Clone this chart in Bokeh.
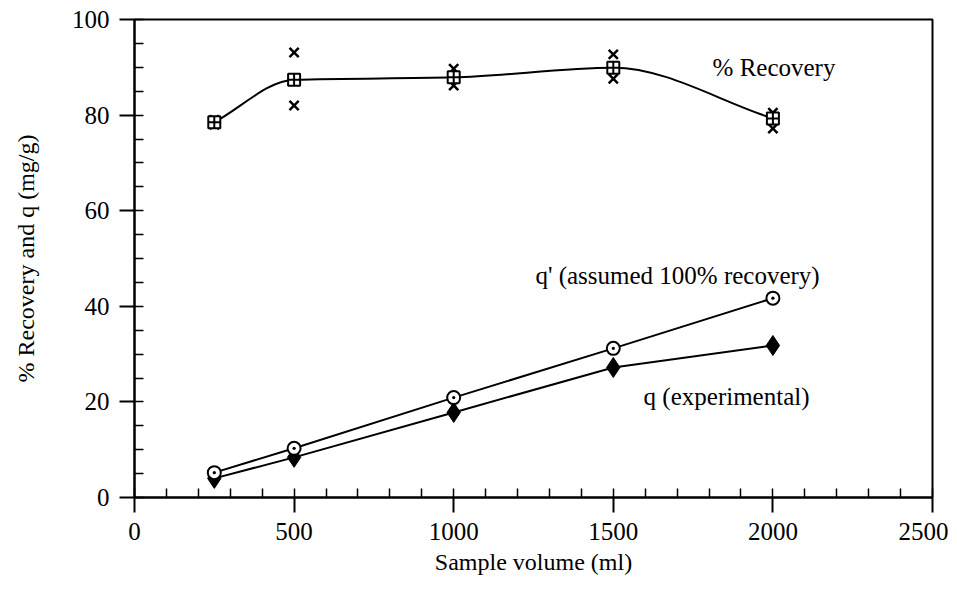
from bokeh.plotting import figure
from bokeh.models import Range1d, FixedTicker, ColumnDataSource
from bokeh.core.properties import value
from bokeh.embed import file_html
from bokeh.resources import INLINE

# ---- data ----
volume = [250, 500, 1000, 1500, 2000]
recovery_rep1 = [79.0, 93.1, 89.7, 92.7, 80.5]
recovery_rep2 = [78.0, 82.0, 86.2, 87.6, 77.2]
recovery_mean = [78.5, 87.4, 87.9, 89.9, 79.3]
q_prime = [5.2, 10.3, 20.9, 31.2, 41.7]
q_exp = [4.0, 8.4, 17.8, 27.2, 31.8]

x_ticks = [0, 500, 1000, 1500, 2000, 2500]
x_minor = list(range(0, 2501, 100))
y_ticks = [0, 20, 40, 60, 80, 100]
y_minor = list(range(0, 101, 5))

labels_text = ["% Recovery", "q' (assumed 100% recovery)", "q (experimental)"]
labels_x = [1811, 1256, 1595]
labels_y = [90.0, 46.4, 21.1]

FONT = "'Liberation Serif'"

p = figure(width=948, height=591, output_backend="svg", toolbar_location=None,
           x_range=Range1d(0, 2500), y_range=Range1d(0, 100),
           min_border_left=134, min_border_top=19, min_border_right=16,
           min_border_bottom=94)
p.grid.visible = False
p.outline_line_color = "black"
p.outline_line_width = 2
p.background_fill_color = "white"
p.border_fill_color = "white"

for ax, ticks, minor in ((p.xaxis[0], x_ticks, x_minor), (p.yaxis[0], y_ticks, y_minor)):
    ax.ticker = FixedTicker(ticks=ticks, minor_ticks=minor)
    ax.axis_line_width = 2
    ax.axis_line_color = "black"
    ax.major_tick_in = 0
    ax.major_tick_out = 15
    ax.major_tick_line_width = 2
    ax.minor_tick_in = 9
    ax.minor_tick_out = 0
    ax.minor_tick_line_width = 1.5
    ax.major_label_text_font = FONT
    ax.major_label_text_font_size = "25px"
    ax.major_label_text_color = "black"
    ax.major_label_standoff = 10
    ax.axis_label_text_font = FONT
    ax.axis_label_text_font_size = "24px"
    ax.axis_label_text_font_style = "normal"
    ax.axis_label_text_color = "black"

p.xaxis.axis_label = "Sample volume (ml)"
p.xaxis.axis_label_standoff = 6
p.yaxis.axis_label = "% Recovery and q (mg/g)"
p.yaxis.axis_label_standoff = 30

# smooth monotone-style curve through the recovery means (cubic Hermite -> bezier)
n = len(volume)
sec = [(recovery_mean[i + 1] - recovery_mean[i]) / (volume[i + 1] - volume[i]) for i in range(n - 1)]
slopes = [sec[0]]
for i in range(1, n - 1):
    a, b = sec[i - 1], sec[i]
    slopes.append(0.0 if a * b <= 0 else 2 * a * b / (a + b))
slopes.append(sec[-1])
x0, y0, x1, y1, cx0, cy0, cx1, cy1 = [], [], [], [], [], [], [], []
for i in range(n - 1):
    xa, ya = volume[i], recovery_mean[i]
    xb, yb = volume[i + 1], recovery_mean[i + 1]
    d = (xb - xa) / 3
    x0.append(xa); y0.append(ya); x1.append(xb); y1.append(yb)
    cx0.append(xa + d); cy0.append(ya + slopes[i] * d)
    cx1.append(xb - d); cy1.append(yb - slopes[i + 1] * d)
p.bezier(x0=x0, y0=y0, x1=x1, y1=y1, cx0=cx0, cy0=cy0, cx1=cx1, cy1=cy1,
         line_color="black", line_width=2)

p.scatter(volume, recovery_rep1, marker="x", size=13, line_color="black", line_width=2.5)
p.scatter(volume, recovery_rep2, marker="x", size=13, line_color="black", line_width=2.5)
p.scatter(volume, recovery_mean, marker="square_cross", size=12, line_color="black",
          line_width=2, fill_color="white")

p.line(volume, q_prime, line_color="black", line_width=2)
p.line(volume, q_exp, line_color="black", line_width=2)
p.scatter(volume, q_exp, marker="diamond", size=20, line_color="black",
          fill_color="black", line_width=1)
p.scatter(volume, q_prime, marker="circle_dot", size=13, line_color="black",
          fill_color="white", line_width=2)

src = ColumnDataSource(dict(x=labels_x, y=labels_y, t=labels_text))
p.text(x="x", y="y", text="t", source=src, text_font=value(FONT),
       text_font_size="25px", text_color="black", text_baseline="alphabetic",
       text_align="left")

open("out.html", "w").write(file_html(p, INLINE))
